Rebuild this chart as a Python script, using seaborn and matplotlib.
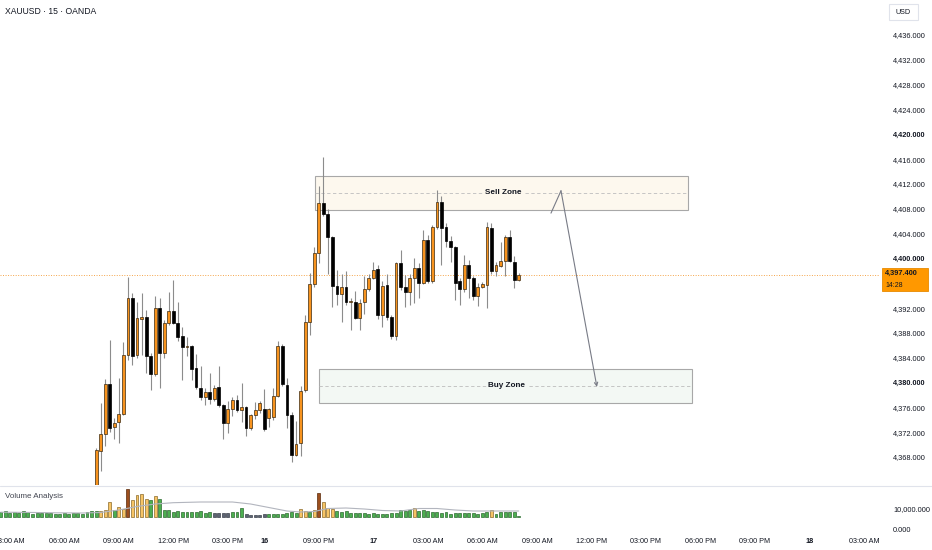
import numpy as np
import pandas as pd
import seaborn as sns
import matplotlib.pyplot as plt
from matplotlib.patches import Rectangle
from matplotlib.lines import Line2D
from matplotlib import transforms

sns.set_theme(style="white")
plt.rcParams['font.family'] = ['Liberation Sans', 'DejaVu Sans']

# ---- data: 15 min candles, bar index 0 = 06:00 AM on the 15th ----
bar_idx = list(range(7, 101))
opens = [4362.0, 4369.0, 4371.7, 4379.7, 4372.8, 4373.6, 4374.9, 4384.5, 4393.7, 4384.4,
         4390.3, 4390.6, 4384.2, 4381.3, 4392.0, 4384.8, 4389.6, 4391.5, 4389.6, 4387.5,
         4385.7, 4385.9, 4382.3, 4379.2, 4377.6, 4378.4, 4377.3, 4379.3, 4376.4, 4373.4,
         4375.8, 4377.2, 4375.6, 4376.1, 4372.6, 4374.7, 4375.6, 4375.7, 4374.3, 4374.5,
         4377.9, 4385.9, 4379.6, 4374.8, 4368.3, 4370.2, 4378.8, 4389.7, 4395.9, 4400.8,
         4409.0, 4407.1, 4403.4, 4395.6, 4394.2, 4395.4, 4392.9, 4393.0, 4390.4, 4392.9,
         4395.0, 4396.9, 4398.3, 4390.9, 4395.7, 4390.6, 4387.5, 4399.2, 4395.4, 4394.6,
         4396.8, 4398.4, 4396.1, 4403.0, 4396.3, 4405.0, 4409.1, 4405.0, 4402.8, 4401.8,
         4396.3, 4395.0, 4398.9, 4396.8, 4393.9, 4395.4, 4395.7, 4404.9, 4398.0, 4398.8,
         4399.6, 4403.4, 4399.5, 4396.5]
highs = [4369.5, 4376.7, 4380.6, 4386.9, 4374.3, 4380.8, 4386.6, 4397.0, 4394.5, 4393.0,
         4394.5, 4391.7, 4384.7, 4394.0, 4393.7, 4390.1, 4394.6, 4396.6, 4392.9, 4388.9,
         4387.4, 4386.1, 4384.6, 4382.7, 4379.1, 4381.6, 4379.6, 4382.7, 4376.6, 4377.0,
         4377.7, 4378.0, 4379.9, 4376.3, 4375.0, 4376.8, 4377.0, 4378.9, 4375.9, 4379.1,
         4386.7, 4386.2, 4380.8, 4375.2, 4373.8, 4379.4, 4390.9, 4397.6, 4401.8, 4411.7,
         4416.3, 4407.9, 4403.6, 4398.2, 4397.5, 4398.0, 4393.6, 4394.8, 4393.4, 4397.1,
         4397.5, 4399.5, 4398.9, 4396.3, 4397.5, 4390.9, 4399.5, 4401.4, 4397.3, 4397.5,
         4400.0, 4399.2, 4404.6, 4403.8, 4405.4, 4411.1, 4410.0, 4405.7, 4403.6, 4402.0,
         4396.8, 4400.6, 4399.7, 4397.2, 4396.0, 4396.2, 4405.8, 4405.7, 4399.5, 4402.7,
         4403.8, 4404.6, 4400.4, 4397.6]
lows = [4360.0, 4365.7, 4369.7, 4372.0, 4370.9, 4370.3, 4374.7, 4383.7, 4382.8, 4384.0,
        4384.4, 4381.5, 4378.8, 4381.0, 4379.1, 4383.9, 4389.3, 4389.4, 4386.7, 4380.4,
        4384.2, 4380.4, 4378.9, 4377.2, 4376.4, 4376.5, 4377.1, 4376.1, 4370.9, 4371.8,
        4374.6, 4375.3, 4373.7, 4371.4, 4372.4, 4374.2, 4375.1, 4372.2, 4372.9, 4374.0,
        4377.6, 4379.5, 4372.6, 4367.2, 4368.1, 4368.1, 4378.5, 4387.7, 4395.4, 4399.2,
        4406.9, 4397.5, 4392.1, 4392.5, 4389.8, 4392.5, 4388.5, 4390.2, 4388.4, 4391.0,
        4394.8, 4396.7, 4390.3, 4389.0, 4390.1, 4387.0, 4386.9, 4394.9, 4392.2, 4392.5,
        4392.8, 4393.6, 4395.8, 4396.0, 4396.0, 4404.8, 4398.9, 4401.9, 4399.5, 4393.3,
        4392.5, 4394.6, 4393.6, 4393.3, 4392.3, 4395.2, 4392.0, 4397.5, 4397.1, 4398.6,
        4397.1, 4399.4, 4395.3, 4396.3]
closes = [4369.1, 4371.7, 4379.7, 4372.7, 4373.5, 4374.9, 4384.5, 4393.7, 4384.3, 4390.4,
          4390.5, 4384.2, 4381.3, 4392.0, 4384.8, 4389.6, 4391.5, 4389.6, 4387.4, 4385.7,
          4385.9, 4382.2, 4379.3, 4377.7, 4378.4, 4377.3, 4379.2, 4376.4, 4373.4, 4375.8,
          4377.2, 4375.6, 4376.1, 4372.6, 4374.8, 4375.6, 4376.7, 4372.5, 4375.7, 4377.9,
          4385.9, 4379.7, 4374.7, 4368.3, 4370.1, 4378.7, 4389.7, 4395.9, 4400.8, 4409.0,
          4407.1, 4403.4, 4395.6, 4394.2, 4395.4, 4392.9, 4393.1, 4390.4, 4392.8, 4395.0,
          4396.9, 4398.2, 4390.9, 4395.6, 4390.6, 4387.5, 4399.2, 4395.4, 4394.6, 4396.8,
          4398.4, 4396.1, 4403.0, 4396.3, 4405.0, 4409.1, 4404.9, 4402.8, 4401.8, 4396.1,
          4395.0, 4398.9, 4396.8, 4393.9, 4395.4, 4395.8, 4405.0, 4398.0, 4398.9, 4399.6,
          4403.4, 4399.6, 4396.6, 4397.4]

# volume pane (bars start before the first visible candle)
vol_idx = list(range(-14, 101))
volumes = [5, 6, 4, 5, 4.5, 6, 5.5, 3.5, 4, 4, 4, 4, 3.5, 3,
           4, 3.5, 4, 4.5, 3.5, 5.5, 6, 6.5,
           6, 7, 15, 7, 10, 8, 28, 17, 22, 23, 18, 17, 21, 18,
           7, 7, 5, 6, 5, 5.5, 5, 5, 6.5, 4.5, 5,
           4.5, 4.5, 4, 4.5,
           5, 5, 9,
           3, 2, 2, 2.5, 3,
           3, 3, 3.5, 3.5, 4, 5, 4,
           8, 6.5, 5.5, 7, 24, 15, 9, 8,
           6, 5, 6.5, 4.5, 4.5, 4.5, 4, 3, 4, 3.5, 3.5, 3.5, 4, 4, 7, 6, 7,
           9,
           6, 7, 6, 5.5, 5, 4.5, 5, 3.5, 4.5, 4, 4, 4.5, 4, 3, 4, 5,
           7,
           3.5, 5, 5, 5, 5, 1]
volumes = [v * 1000 for v in volumes]
vol_kind = ("g" * 14 + "g" * 8 + "yyygyybyyyygyg" + "g" * 11 + "dddd" + "ggg" + "ddddd"
            + "g" * 7 + "yygybyyy" + "g" * 17 + "y" + "g" * 16 + "y" + "g" * 6)

ma_idx = [-14, -8, -2, 4, 8, 12, 16, 20, 24, 30, 37, 41, 45, 49, 52, 55, 58, 62, 66, 70, 74, 78, 82, 86, 90, 95, 100]
ma_vals = [4.8, 4.6, 4.2, 4.0, 4.5, 7, 10.5, 13, 14.3, 15, 15, 13, 9.5, 6, 5, 5.5, 8.5, 9, 8, 6.5, 6, 8.5, 8.5, 7, 6, 6, 6]
ma_vals = [v * 1000 for v in ma_vals]

tick_pos = [-12, 0, 12, 24, 36, 44, 56, 68, 80, 92, 104, 116, 128, 140, 152, 164, 176]
tick_lbl = ["03:00 AM", "06:00 AM", "09:00 AM", "12:00 PM", "03:00 PM", "16", "09:00 PM", "17",
            "03:00 AM", "06:00 AM", "09:00 AM", "12:00 PM", "03:00 PM", "06:00 PM", "09:00 PM",
            "18", "03:00 AM"]

# 4,396 sits under the last-price label, so it is not shown
price_ticks = [v for v in range(4368, 4437, 4) if v != 4396]
last_price = 4397.4
sell_zone = [4407.8, 4413.3]
buy_zone = [4376.7, 4382.2]
sell_span = [55.2, 137.2]
buy_span = [56.0, 138.1]
arrow_x = [107.1, 109.3, 117.2]
arrow_y = [4407.3, 4410.9, 4379.3]

df = pd.DataFrame({"t": bar_idx, "o": opens, "h": highs, "l": lows, "c": closes})
df["bull"] = df.c >= df.o

W, H = 932, 550
fig = plt.figure(figsize=(W / 100, H / 100), dpi=100)
fig.patch.set_facecolor("white")

TXT = "#131722"
ORANGE = "#f7931e"

# ---- price pane ----
ax = fig.add_axes([0, 65 / H, 880 / W, 485 / H])
ax.set_xlim(-14.15, 179.5)
ax.set_ylim(4363.49, 4441.64)

ax.vlines(df.t, df.l, df.h, color="#8c8c8c", lw=0.8, zorder=2)
body_h = np.maximum((df.c - df.o).abs(), 0.12)
ax.bar(df.t, body_h, bottom=np.minimum(df.o, df.c), width=0.62,
       color=np.where(df.bull, ORANGE, "#000000"),
       edgecolor=np.where(df.bull, "#3b2a12", "#000000"), linewidth=0.5, zorder=3)

# zones
for (lo, hi), (x0, x1), fc, name in [(sell_zone, sell_span, "#fdf8ee", "Sell Zone"),
                                     (buy_zone, buy_span, "#f3f8f4", "Buy Zone")]:
    ax.add_patch(Rectangle((x0, lo), x1 - x0, hi - lo, fc=fc, ec="#a8a8a8", lw=0.8, zorder=1))
    mid = (lo + hi) / 2
    ax.hlines(mid, x0, x1, colors="#bdbdbd", lw=0.6, linestyles=(0, (4, 3)), zorder=1.2)
    ax.text((x0 + x1) / 2 + 0.3, mid, name, ha="center", va="center", fontsize=5.9,
            fontweight="bold", color=TXT, zorder=1.5,
            bbox=dict(fc=fc, ec="none", pad=1.2))

# projected path
ax.plot(arrow_x[:2], arrow_y[:2], color="#787b86", lw=0.8, zorder=4)
ax.annotate("", xy=(arrow_x[2], arrow_y[2]), xytext=(arrow_x[1], arrow_y[1]),
            arrowprops=dict(arrowstyle="->", color="#787b86", lw=0.8,
                            shrinkA=0, shrinkB=0, mutation_scale=6), zorder=4)

# last price line and label
ax.axhline(last_price, color="#f5a54a", lw=0.7, ls=(0, (1, 1.6)), zorder=1.8)
trans = transforms.blended_transform_factory(fig.transFigure, ax.transData)
ax.add_patch(Rectangle((882 / W, last_price - 2.65), 46 / W, 3.75, transform=trans,
                       fc="#ff9800", ec="#e88a00", lw=0.6, clip_on=False, zorder=6))
ax.text(885 / W, last_price + 0.25, f"{last_price:,.3f}", transform=trans, fontsize=5.3,
        va="center", ha="left", color=TXT, fontweight="bold", clip_on=False, zorder=7)
ax.text(885 / W, last_price - 1.7, "14:28", transform=trans, fontsize=5.0,
        va="center", ha="left", color=TXT, clip_on=False, zorder=7)

ax.yaxis.tick_right()
ax.set_yticks(price_ticks)
ax.set_yticklabels([f"{v:,.3f}" for v in price_ticks])
ax.tick_params(axis="y", length=0, pad=9.4, labelsize=5.3, colors=TXT)
for lab, v in zip(ax.get_yticklabels(), price_ticks):
    if v % 20 == 0:
        lab.set_fontweight("bold")
ax.set_xticks([])
for s in ax.spines.values():
    s.set_visible(False)

# ---- volume pane ----
axv = fig.add_axes([0, 17 / H, 880 / W, 46 / H])
axv.set_xlim(-14.15, 179.5)
axv.set_ylim(-16000, 30000)
fill = {"g": "#4caf50", "y": "#f7c465", "b": "#9c4f1e", "d": "#5d6473"}
edge = {"g": "#2d6a30", "y": "#8a6a2a", "b": "#5a2a0a", "d": "#3b404b"}
axv.bar(vol_idx, volumes, width=0.65, color=[fill[k] for k in vol_kind],
        edgecolor=[edge[k] for k in vol_kind], linewidth=0.5, zorder=2)
sns.lineplot(x=ma_idx, y=ma_vals, ax=axv, color="#b2b5be", lw=0.8, zorder=3)
axv.set_xlabel("")
axv.set_ylabel("")
axv.set_yticks([])
axv.set_xticks(tick_pos)
axv.set_xticklabels(tick_lbl)
axv.tick_params(axis="x", length=0, pad=3.5, labelsize=5.2, colors=TXT)
for lab, s in zip(axv.get_xticklabels(), tick_lbl):
    if len(s) == 2:
        lab.set_fontweight("bold")
for s in axv.spines.values():
    s.set_visible(False)

axs = axv.twinx()
axs.set_ylim(-1428.6, 20476)
axs.set_yticks([0, 10000])
axs.set_yticklabels(["0.000", "10,000.000"])
axs.tick_params(axis="y", length=0, pad=9.4, labelsize=5.3, colors=TXT)
for s in axs.spines.values():
    s.set_visible(False)

# separator, header texts
fig.add_artist(Line2D([0, 1], [1 - 486 / H] * 2, transform=fig.transFigure, color="#e0e3eb", lw=0.8))
fig.text(5 / W, 1 - 11 / H, "XAUUSD · 15 · OANDA", fontsize=6.2, va="center", color=TXT)
fig.text(5 / W, 1 - 497 / H, "Volume Analysis", fontsize=5.8, va="center", color="#434651")
fig.add_artist(Rectangle((889 / W, 1 - 20 / H), 29 / W, 16 / H, transform=fig.transFigure,
                         fc="white", ec="#e0e3eb", lw=0.8))
fig.text(903.5 / W, 1 - 12 / H, "USD", fontsize=5.2, ha="center", va="center", color=TXT)

fig.savefig("out.png", dpi=100)
